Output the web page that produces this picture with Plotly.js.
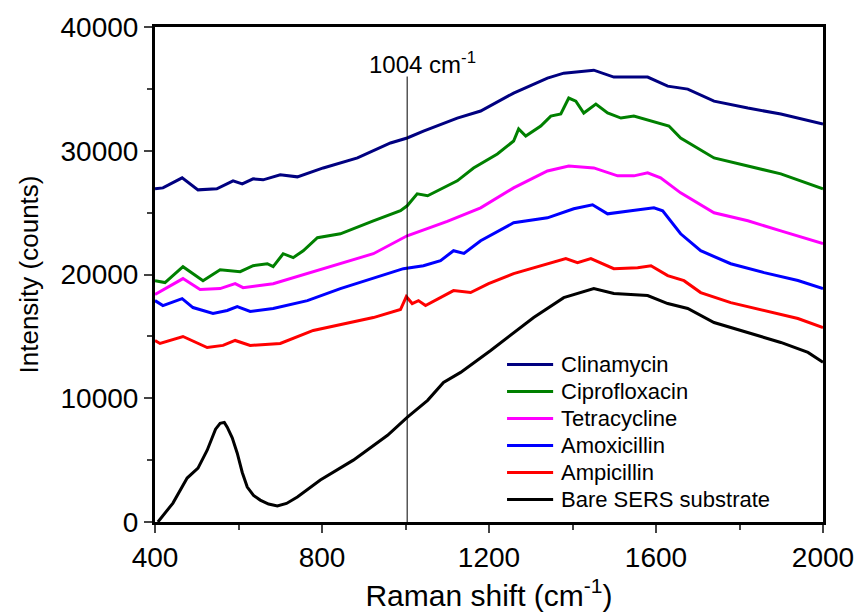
<!DOCTYPE html>
<html><head><meta charset="utf-8">
<script src="https://cdn.plot.ly/plotly-3.0.1.min.js"></script>
<style>body{margin:0;background:#fff}#chart{width:858px;height:615px}</style>
</head><body><div id="chart"></div>
<script>
const seriesNames = ["Clinamycin","Ciprofloxacin","Tetracycline","Amoxicillin","Ampicillin","Bare SERS substrate"];
const seriesColors = ["#000080","#008000","#FF00FF","#0000FF","#FF0000","#000000"];

const clinX = [400,419,465,503,548,587,609,635,659,700,741,803,885,964,1004,1043,1124,1180,1259,1340,1379,1451,1499,1580,1628,1676,1739,1820,1899,2000];
const clinY = [26920,27000,27810,26840,26920,27570,27320,27730,27650,28050,27890,28610,29420,30630,31030,31590,32640,33210,34660,35870,36270,36510,35950,35950,35220,34980,34010,33450,32970,32160];

const ciproX = [400,424,467,515,556,604,635,669,683,707,731,755,789,844,923,988,1004,1028,1053,1124,1163,1204,1220,1259,1271,1288,1324,1348,1372,1391,1408,1427,1456,1484,1516,1547,1588,1631,1659,1700,1739,1820,1899,2000];
const ciproY = [19500,19350,20630,19500,20390,20230,20710,20870,20630,21680,21360,21920,22970,23290,24340,25150,25550,26520,26360,27570,28610,29420,29740,30790,31760,31190,32000,32800,32970,34260,34010,33050,33770,33050,32640,32800,32400,32000,31030,30220,29420,28770,28130,26920];

const tetraX = [400,436,467,508,556,592,611,683,765,844,923,1004,1100,1180,1259,1340,1391,1451,1508,1547,1580,1611,1659,1739,1820,1899,2000];
const tetraY = [18380,19100,19670,18780,18860,19260,18940,19260,20070,20870,21680,23130,24300,25390,27000,28370,28770,28610,27970,27970,28210,27810,26600,24990,24340,23530,22490];

const amoxX = [400,419,465,491,539,573,597,628,683,765,844,923,995,1043,1084,1115,1140,1180,1259,1340,1403,1448,1484,1540,1595,1616,1659,1707,1779,1859,1940,2000];
const amoxY = [17890,17490,18050,17330,16850,17090,17410,17010,17250,17890,18860,19670,20470,20710,21120,21920,21700,22730,24180,24580,25310,25630,24900,25150,25390,25150,23290,21920,20870,20150,19510,18860];

const ampiX = [400,412,467,525,563,592,628,700,779,844,923,988,1002,1016,1031,1048,1115,1156,1199,1259,1340,1384,1412,1444,1499,1556,1588,1628,1667,1707,1779,1859,1940,2000];
const ampiY = [14670,14430,14990,14100,14270,14670,14270,14430,15480,15960,16520,17170,18220,17650,17890,17490,18700,18540,19260,20070,20870,21280,20960,21280,20470,20550,20710,19910,19500,18540,17730,17090,16440,15720];

const bareX = [407,443,477,503,525,545,556,566,573,585,597,609,621,636,652,672,693,715,741,796,875,957,1004,1053,1091,1132,1204,1244,1307,1379,1420,1451,1499,1580,1628,1676,1739,1820,1899,1964,2000];
const bareY = [0,1530,3550,4350,5800,7500,7980,8050,7660,6800,5560,4000,2820,2150,1770,1450,1290,1500,2015,3390,5000,7010,8460,9830,11280,12090,13860,14910,16520,18130,18540,18860,18460,18300,17650,17250,16120,15310,14510,13700,12900];

const markerX = [1004,1004];
const markerY = [0,36000];
const markerLabel = '1004 cm<sup>-1</sup>';
const xTicks = [400,800,1200,1600,2000];
const yTicks = [0,10000,20000,30000,40000];

const xs = [clinX,ciproX,tetraX,amoxX,ampiX,bareX];
const ys = [clinY,ciproY,tetraY,amoxY,ampiY,bareY];
const traces = seriesNames.map((n,i)=>({x:xs[i],y:ys[i],name:n,type:'scatter',mode:'lines',line:{color:seriesColors[i],width:3},showlegend:false}));
traces.push({x:markerX,y:markerY,mode:'lines',line:{color:'#000',width:1},showlegend:false,hoverinfo:'skip'});

// custom legend (paper coords)
const FONT = 'Liberation Sans, Arial, sans-serif';
const legX0 = 0.527, legX1 = 0.596, legTextX = 0.605, legY0 = 0.318, legDy = 0.0545;
const shapes = [], annotations = [];
seriesNames.forEach((n,i)=>{
  const yy = legY0 - i*legDy;
  shapes.push({type:'line',xref:'paper',yref:'paper',x0:legX0,x1:legX1,y0:yy,y1:yy,line:{color:seriesColors[i],width:3}});
  annotations.push({xref:'paper',yref:'paper',x:legTextX,y:yy,text:n,showarrow:false,xanchor:'left',yanchor:'middle',font:{size:22,family:FONT,color:'#000'}});
});
annotations.push({x:1040,y:35700,xref:'x',yref:'y',text:markerLabel,showarrow:false,font:{size:24,family:FONT},yanchor:'bottom'});

const layout = {
  width:858,height:615,
  margin:{l:155,r:35,t:27,b:93},
  paper_bgcolor:'#fff',plot_bgcolor:'#fff',
  font:{family:FONT,color:'#000'},
  showlegend:false,
  shapes:shapes,
  annotations:annotations,
  xaxis:{range:[400,2000],tickvals:xTicks,ticktext:xTicks.map(String),ticks:'outside',ticklen:8,tickwidth:2,
    minor:{dtick:200,tick0:400,ticks:'outside',ticklen:5,tickwidth:2},
    showline:true,linewidth:3,linecolor:'#000',mirror:true,showgrid:false,zeroline:false,
    tickfont:{size:28,family:FONT},
    title:{text:'Raman shift (cm<sup>-1</sup>)',font:{size:30,family:FONT},standoff:14}},
  yaxis:{range:[0,40000],tickvals:yTicks,ticktext:yTicks.map(String),ticks:'outside',ticklen:8,tickwidth:2,
    minor:{dtick:5000,ticks:'outside',ticklen:5,tickwidth:2},
    showline:true,linewidth:3,linecolor:'#000',mirror:true,showgrid:false,zeroline:false,
    tickfont:{size:28,family:FONT},
    title:{text:'Intensity (counts)',font:{size:26,family:FONT},standoff:15}}
};
Plotly.newPlot('chart',traces,layout,{displayModeBar:false,staticPlot:true});
</script></body></html>
